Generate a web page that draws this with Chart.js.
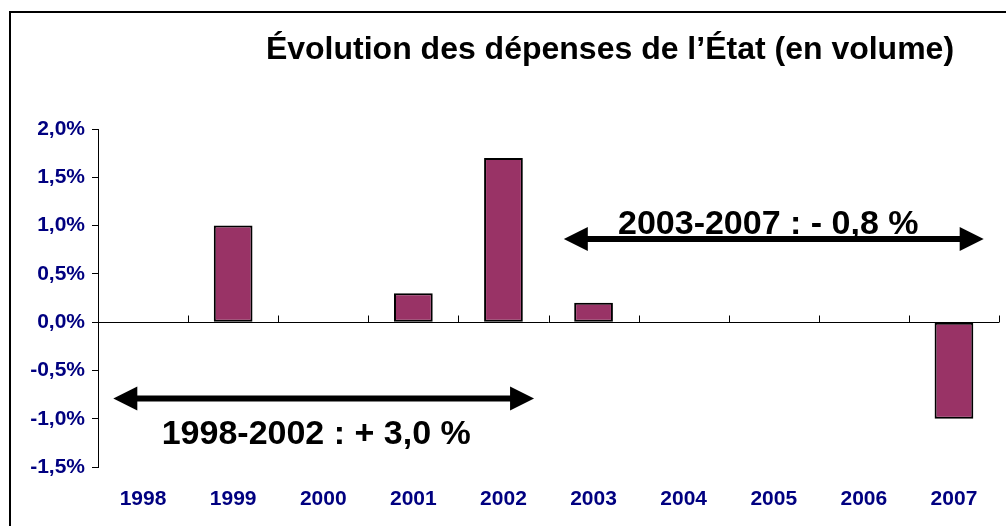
<!DOCTYPE html>
<html><head><meta charset="utf-8">
<script src="https://cdn.jsdelivr.net/npm/chart.js@4.4.1/dist/chart.umd.min.js"></script>
<style>html,body{margin:0;padding:0;background:#fff;}canvas{display:block;}</style>
</head><body>
<canvas id="c" width="1006" height="526"></canvas>
<script>
// ---- data ----
const categories = ['1998', '1999', '2000', '2001', '2002', '2003', '2004', '2005', '2006', '2007'];
const values = [0, 1.0, 0, 0.3, 1.7, 0.2, 0, 0, 0, -1.0];
const yTickValues = [-1.5, -1.0, -0.5, 0, 0.5, 1.0, 1.5, 2.0];
const titleText = 'Évolution des dépenses de l’État (en volume)';
const periodLabels = ['1998-2002 : + 3,0 %', '2003-2007 : - 0,8 %'];

// ---- annotation layout (category-index / value units) ----
const periodLayout = [
  { from: -0.33, to: 4.34, y: -0.79, textDx: -7.5, textDy: 46 },
  { from: 4.67, to: 9.33, y: 0.86, textDx: -5.5, textDy: -5.5 }
];

const FONT = '"Liberation Sans", Arial, Helvetica, sans-serif';
const NAVY = '#000080';

function fmt(v) { return v.toFixed(1).replace('.', ',') + '%'; }

const decor = {
  id: 'decor',
  beforeDraw(chart) {
    const ctx = chart.ctx;
    ctx.save();
    ctx.fillStyle = '#fff';
    ctx.fillRect(0, 0, chart.width, chart.height);
    ctx.strokeStyle = '#000';
    ctx.lineWidth = 2;
    ctx.beginPath();
    ctx.moveTo(10, chart.height + 2);
    ctx.lineTo(10, 12);
    ctx.lineTo(chart.width + 2, 12);
    ctx.stroke();
    // title
    ctx.fillStyle = '#000';
    ctx.font = 'bold 32px ' + FONT;
    ctx.textAlign = 'center';
    ctx.textBaseline = 'alphabetic';
    ctx.fillText(titleText, 610, 59);
    ctx.restore();
  },
  beforeDatasetsDraw(chart) {
    const ctx = chart.ctx, x = chart.scales.x, y = chart.scales.y;
    const y0 = Math.round(y.getPixelForValue(0)) + 0.5;
    ctx.save();
    ctx.strokeStyle = '#000';
    ctx.lineWidth = 1;
    ctx.beginPath();
    ctx.moveTo(x.left, y0);
    ctx.lineTo(x.right, y0);
    for (let i = 0; i <= categories.length; i++) {
      const px = Math.round(x.getPixelForValue(i - 0.5)) + 0.5;
      ctx.moveTo(px, y0);
      ctx.lineTo(px, y0 - 7);
    }
    ctx.stroke();
    ctx.restore();
  },
  afterDatasetsDraw(chart) {
    const ctx = chart.ctx, x = chart.scales.x, y = chart.scales.y;
    ctx.save();
    periodLayout.forEach((p, i) => {
      const x1 = x.getPixelForValue(p.from), x2 = x.getPixelForValue(p.to);
      const py = y.getPixelForValue(p.y);
      const head = 24, hw = 12;
      ctx.strokeStyle = '#000';
      ctx.fillStyle = '#000';
      ctx.lineWidth = 6;
      ctx.beginPath();
      ctx.moveTo(x1 + head - 2, py);
      ctx.lineTo(x2 - head + 2, py);
      ctx.stroke();
      ctx.beginPath();
      ctx.moveTo(x1, py); ctx.lineTo(x1 + head, py - hw); ctx.lineTo(x1 + head, py + hw); ctx.closePath();
      ctx.fill();
      ctx.beginPath();
      ctx.moveTo(x2, py); ctx.lineTo(x2 - head, py - hw); ctx.lineTo(x2 - head, py + hw); ctx.closePath();
      ctx.fill();
      ctx.font = 'bold 34px ' + FONT;
      ctx.textAlign = 'center';
      ctx.textBaseline = 'alphabetic';
      ctx.fillText(periodLabels[i], (x1 + x2) / 2 + p.textDx, py + p.textDy);
    });
    ctx.restore();
  }
};

new Chart(document.getElementById('c'), {
  type: 'bar',
  data: {
    labels: categories,
    datasets: [{
      data: values,
      backgroundColor: '#993366',
      borderColor: '#000',
      borderWidth: 2,
      borderSkipped: false,
      barPercentage: 0.43,
      categoryPercentage: 1.0
    }]
  },
  options: {
    responsive: false,
    animation: false,
    events: [],
    layout: { padding: { left: 0, right: 7, top: 129, bottom: 0 } },
    plugins: { legend: { display: false }, title: { display: false }, tooltip: { enabled: false } },
    scales: {
      x: {
        type: 'category',
        offset: true,
        grid: { display: false },
        border: { display: false },
        ticks: { color: NAVY, font: { family: FONT, size: 21, weight: 'bold' }, padding: 12, maxRotation: 0, autoSkip: false },
        afterFit(s) { s.height = 59; }
      },
      y: {
        min: yTickValues[0],
        max: yTickValues[yTickValues.length - 1],
        afterBuildTicks(s) { s.ticks = yTickValues.map(v => ({ value: v })); },
        grid: { drawOnChartArea: false, drawTicks: true, tickLength: 6, color: '#000' },
        border: { display: true, color: '#000', width: 1 },
        ticks: { color: NAVY, font: { family: FONT, size: 21, weight: 'bold' }, padding: 7, callback: v => fmt(v) },
        afterFit(s) { s.width = 98; }
      }
    }
  },
  plugins: [decor]
});
</script>
</body></html>
